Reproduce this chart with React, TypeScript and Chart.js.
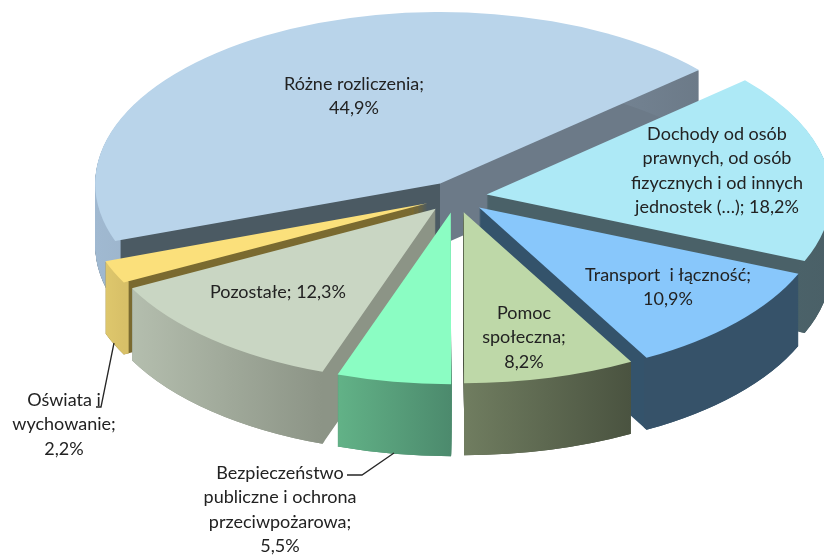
import React, { useEffect, useRef } from "react";
import { Chart, registerables } from "chart.js";

Chart.register(...registerables);

const categoryLines: string[][] = [
  ["Różne rozliczenia;"],
  ["Dochody od osób", "prawnych, od osób", "fizycznych i od innych", "jednostek (…);"],
  ["Transport  i łączność;"],
  ["Pomoc", "społeczna;"],
  ["Bezpieczeństwo", "publiczne i ochrona", "przeciwpożarowa;"],
  ["Pozostałe;"],
  ["Oświata i", "wychowanie;"],
];
const values = [44.9, 18.2, 10.9, 8.2, 5.5, 12.3, 2.2];
const valueInline = [false, true, false, false, false, true, false];
const topColors = ["#B9D4EA", "#ADE9F6", "#88C7FB", "#BED8A8", "#8BFDC3", "#C9D6C3", "#FBE07B"];
const rimColors = [
  ["#A0B9D1", "#6C7A88"],
  ["#4C646B", "#4A6067"],
  ["#365269", "#365269"],
  ["#707D60", "#4A5340"],
  ["#62B287", "#4C8A6D"],
  ["#B4BEAE", "#8C9486"],
  ["#DEC76C", "#D8C068"],
];
const wallColors = [
  ["#4B5A63", "#6C7A88"],
  ["#4A6168", "#4A6168"],
  ["#34536B", "#34536B"],
  ["#4A5340", "#4A5340"],
  ["#4C8A6D", "#4C8A6D"],
  ["#8C9486", "#9AA292"],
  ["#7A6A30", "#7A6A30"],
];
const sliceDepth = [62, 72, 72, 72, 72, 72, 72];
const sliceScaleX = [1.009, 1.008, 1.012, 1.012, 1, 1, 1];
const sliceScaleY = [0.993, 1, 0.995, 0.99, 0.995, 1, 1];
const drawOrder = [0, 1, 6, 5, 2, 3, 4];
const labelCenters = [
  [354, 84], [717, 134], [668, 275], [524, 313], [280, 473], [278, 292], [64, 400],
];
const leaderLines = [
  [[114, 343], [101, 407], [96, 407]],
  [[394, 453], [362, 475], [347, 475]],
];
const radius = 342;
const tilt = 0.505;
const explode = 31;
const lineHeight = 24.4;

const fmt = (v: number) => v.toFixed(1).replace(".", ",") + "%";

const pie3d = {
  id: "pie3d",
  beforeDatasetDraw(chart: any, args: any) {
    const ctx: CanvasRenderingContext2D = chart.ctx;
    const arcs = args.meta.data;
    const gradient = (el: any, stops: string[], hard: boolean) => {
      const g = ctx.createLinearGradient(el.x - radius, 0, el.x + radius, 0);
      if (hard) {
        g.addColorStop(0, stops[0]);
        g.addColorStop(0.5, stops[0]);
        g.addColorStop(0.5, stops[1]);
        g.addColorStop(1, stops[1]);
      } else {
        const xs = [Math.cos(el.startAngle), Math.cos(el.endAngle)];
        for (let t = el.startAngle; t < el.endAngle; t += 0.02) xs.push(Math.cos(t));
        g.addColorStop(Math.max(0, (Math.min(...xs) + 1) / 2), stops[0]);
        g.addColorStop(Math.min(1, (Math.max(...xs) + 1) / 2), stops[1]);
      }
      return g;
    };
    for (const i of drawOrder) {
      const el = arcs[i];
      const mid = (el.startAngle + el.endAngle) / 2;
      const ax = Math.cos(mid) * explode;
      const ay = Math.sin(mid) * explode;
      const base = el.options;
      const inner = el.innerRadius;
      const draw = (dy: number, fill: any, innerR: number) => {
        el.options = { ...base, offset: 0, borderWidth: 0, backgroundColor: fill };
        el.innerRadius = innerR;
        ctx.save();
        ctx.translate(el.x + ax, el.y + dy + ay * tilt);
        ctx.scale(sliceScaleX[i], tilt * sliceScaleY[i]);
        ctx.translate(-el.x, -el.y);
        el.draw(ctx);
        ctx.restore();
      };
      const wall = gradient(el, wallColors[i], true);
      const rim = gradient(el, rimColors[i], false);
      for (let d = sliceDepth[i]; d >= 1; d--) draw(d, wall, 0);
      for (let d = sliceDepth[i]; d >= 1; d--) draw(d, rim, radius - 6);
      draw(0, topColors[i], 0);
      el.options = base;
      el.innerRadius = inner;
    }
    return false;
  },
  afterDraw(chart: any) {
    const ctx: CanvasRenderingContext2D = chart.ctx;
    ctx.save();
    ctx.strokeStyle = "#262626";
    ctx.lineWidth = 1.3;
    for (const pts of leaderLines) {
      ctx.beginPath();
      pts.forEach((p, j) => (j ? ctx.lineTo(p[0], p[1]) : ctx.moveTo(p[0], p[1])));
      ctx.stroke();
    }
    ctx.fillStyle = "#222222";
    ctx.font = '18px Lato, "Open Sans", sans-serif';
    ctx.textAlign = "center";
    ctx.textBaseline = "middle";
    values.forEach((v, i) => {
      const lines = categoryLines[i].slice();
      if (valueInline[i]) lines[lines.length - 1] += " " + fmt(v);
      else lines.push(fmt(v));
      lines.forEach((t, j) => ctx.fillText(t, labelCenters[i][0], labelCenters[i][1] + j * lineHeight));
    });
    ctx.restore();
  },
};

export default function App() {
  const ref = useRef<HTMLCanvasElement>(null);
  useEffect(() => {
    const chart = new Chart(ref.current!, {
      type: "pie",
      data: {
        labels: categoryLines.map((l) => l.join(" ")),
        datasets: [
          {
            data: values,
            backgroundColor: topColors,
            borderWidth: 0,
            radius,
            offset: explode,
          } as any,
        ],
      },
      options: {
        responsive: false,
        animation: false,
        rotation: 250.4,
        layout: { padding: { left: 88, right: 0, top: 0, bottom: 163 } },
        plugins: { legend: { display: false }, tooltip: { enabled: false } },
      },
      plugins: [pie3d],
    } as any);
    return () => chart.destroy();
  }, []);
  return (
    <div style={{ position: "absolute", left: 0, top: 0, width: 824, height: 557, overflow: "hidden", background: "#fff" }}>
      <canvas ref={ref} width={824} height={557} style={{ display: "block" }} />
    </div>
  );
}
